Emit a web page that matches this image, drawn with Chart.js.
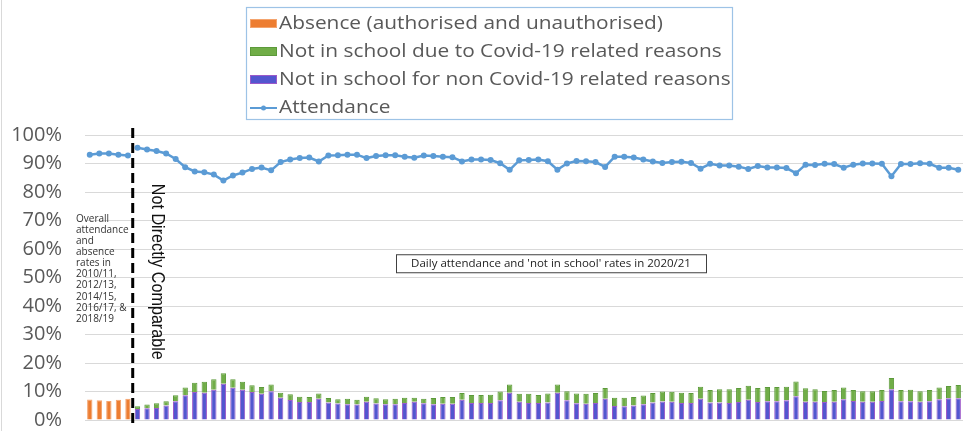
<!DOCTYPE html>
<html>
<head>
<meta charset="utf-8">
<script src="https://cdn.jsdelivr.net/npm/chart.js@4/dist/chart.umd.min.js"></script>
<style>
    html, body { margin: 0; padding: 0; background: #fff; }
    #wrap { position: relative; width: 976px; height: 431px; }
</style>
</head>
<body>
<div id="wrap"><canvas id="attendanceChart"></canvas></div>
<script>
// pre-2020 yearly figures
const yearLabels = ['2010/11', '2012/13', '2014/15', '2016/17', '2018/19'];
const absenceRates = [7.2, 6.9, 6.7, 7.1, 7.5];
const attendanceYearly = [93.1, 93.5, 93.5, 93.1, 92.8];

// daily figures 2020/21 (%)
const nonCovidRates = [
    3.9, 4.1, 4.2, 5.1, 6.6, 8.7, 9.8, 9.6, 10.6, 12.7, 11.3, 10.6, 9.8, 9.2, 10.1, 7.8, 7.0, 6.3, 6.3, 7.5, 6.1, 5.8, 5.5, 5.4, 6.4, 5.8,
    5.5, 5.5, 6.0, 6.4, 5.9, 5.5, 5.7, 5.7, 7.1, 6.0, 6.0, 6.0, 6.9, 9.6, 6.4, 6.0, 6.0, 6.1, 9.6, 6.9, 5.9, 5.7, 6.0, 7.5, 4.9, 4.8, 5.1, 5.5, 6.1, 6.5,
    6.4, 6.0, 6.0, 7.5, 6.1, 6.1, 6.0, 6.3, 7.1, 6.3, 6.6, 6.6, 6.9, 8.3, 6.4, 6.4, 6.3, 6.4, 7.3, 6.7, 6.4, 6.4, 6.7, 10.8, 6.6, 6.6, 6.4, 6.6, 7.3, 7.6, 7.6
];
const covidRates = [
    0.9, 1.3, 1.7, 1.5, 2.1, 2.7, 3.3, 3.8, 3.7, 3.7, 3.0, 2.8, 2.4, 2.4, 2.4, 1.8, 2.0, 1.9, 1.8, 1.8, 1.6, 1.5, 2.0, 1.7, 1.8, 1.8,
    1.8, 2.0, 1.8, 1.4, 1.6, 2.2, 2.4, 2.4, 2.4, 2.8, 2.8, 2.9, 3.1, 2.9, 2.8, 3.2, 2.8, 3.2, 2.9, 3.2, 3.4, 3.5, 3.5, 3.7, 2.9, 3.0, 3.0, 3.1, 3.4, 3.5,
    3.5, 3.6, 3.5, 4.2, 4.4, 4.7, 4.8, 4.9, 4.9, 4.9, 5.0, 5.0, 4.8, 5.2, 4.7, 4.4, 3.9, 4.1, 4.1, 3.8, 3.7, 3.7, 3.8, 3.9, 3.9, 4.0, 3.7, 3.9, 4.1, 4.3, 4.7
];
const attendanceDaily = [
    95.5, 94.9, 94.4, 93.5, 91.6, 88.7, 87.2, 86.9, 86.1, 84.0, 85.8, 86.8, 88.1, 88.6, 87.6, 90.5, 91.4, 91.9, 92.1, 90.7, 92.8, 92.9, 93.1, 93.1, 91.9, 92.6,
    92.9, 92.9, 92.4, 92.0, 92.8, 92.6, 92.4, 92.2, 90.7, 91.4, 91.4, 91.2, 90.1, 87.8, 91.1, 91.2, 91.4, 90.8, 87.8, 90.0, 90.9, 90.8, 90.5, 88.8, 92.4, 92.4, 92.1, 91.4, 90.7, 90.2,
    90.5, 90.6, 90.2, 88.2, 89.9, 89.3, 89.3, 88.9, 88.1, 89.1, 88.6, 88.6, 88.4, 86.6, 89.6, 89.5, 89.9, 89.8, 88.5, 89.6, 90.0, 90.0, 89.9, 85.5, 89.8, 89.8, 90.1, 89.9, 88.5, 88.5, 87.8
];
const dayLabels = attendanceDaily.map((v, i) => 'Day ' + (i + 1));
const yTicks = [0, 10, 20, 30, 40, 50, 60, 70, 80, 90, 100];

const labels = yearLabels.concat(dayLabels);
const gapYears = yearLabels.map(() => null);
const gapDays = dayLabels.map(() => null);

const TEXT_GREY = '#595959';

// legend drawn in the original order, inside a bordered box
const legendOrder = [0, 2, 1, 3];

const extrasPlugin = {
    id: 'extras',
    afterDatasetsDraw(chart) {
        const ctx = chart.ctx;
        const x = chart.scales.x;
        const y = chart.scales.y;
        const split = (x.getPixelForValue(yearLabels.length - 1) + x.getPixelForValue(yearLabels.length)) / 2;

        ctx.save();

        // faint frame at left edge
        ctx.strokeStyle = '#d9d9d9';
        ctx.lineWidth = 1;
        ctx.beginPath();
        ctx.moveTo(1.5, 0);
        ctx.lineTo(1.5, chart.height);
        ctx.stroke();

        // dashed divider
        ctx.strokeStyle = '#000';
        ctx.lineWidth = 3;
        ctx.setLineDash([10, 5]);
        ctx.beginPath();
        ctx.moveTo(split, y.getPixelForValue(102.5));
        ctx.lineTo(split, y.bottom + 3);
        ctx.stroke();
        ctx.setLineDash([]);

        // rotated label
        ctx.save();
        ctx.translate(split + 24, y.getPixelForValue(52));
        ctx.rotate(Math.PI / 2);
        ctx.font = '18px "Liberation Sans"';
        const txt = 'Not Directly Comparable';
        const w = ctx.measureText(txt).width;
        ctx.scale(176 / w, 1);
        ctx.fillStyle = '#111';
        ctx.textAlign = 'center';
        ctx.textBaseline = 'middle';
        ctx.fillText(txt, 0, 0);
        ctx.restore();

        // left note
        const note = ['Overall', 'attendance', 'and', 'absence', 'rates in', '2010/11,', '2012/13,', '2014/15,', '2016/17, &', '2018/19'];
        ctx.font = '10px "Open Sans"';
        ctx.fillStyle = '#333';
        ctx.textAlign = 'left';
        ctx.textBaseline = 'middle';
        note.forEach((line, i) => {
            ctx.fillText(line, x.left - 9, 219 + i * 11.1);
        });

        // centre caption box
        const cx = 551, cy = y.getPixelForValue(55);
        ctx.fillStyle = '#fff';
        ctx.fillRect(cx - 155, cy - 9, 310, 18);
        ctx.strokeStyle = '#404040';
        ctx.lineWidth = 1;
        ctx.strokeRect(cx - 155 + 0.5, cy - 9 + 0.5, 310, 18);
        ctx.font = '11.5px "Open Sans"';
        ctx.fillStyle = '#222';
        ctx.textAlign = 'center';
        ctx.fillText("Daily attendance and 'not in school' rates in 2020/21", cx, cy);

        // legend box
        ctx.fillStyle = '#fff';
        ctx.fillRect(246, 7, 486, 112);
        ctx.strokeStyle = '#9dc3e6';
        ctx.lineWidth = 1.2;
        ctx.strokeRect(246.5, 7.5, 486, 112);
        ctx.font = '19px "Open Sans"';
        ctx.textAlign = 'left';
        ctx.textBaseline = 'middle';
        const sx = 384 / ctx.measureText(chart.data.datasets[0].label).width;
        legendOrder.forEach((di, row) => {
            const ds = chart.data.datasets[di];
            const ry = 23 + row * 28;
            if (ds.type === 'line') {
                ctx.strokeStyle = ds.borderColor;
                ctx.lineWidth = 2;
                ctx.beginPath();
                ctx.moveTo(250, ry + 1);
                ctx.lineTo(277, ry + 1);
                ctx.stroke();
                ctx.fillStyle = ds.borderColor;
                ctx.beginPath();
                ctx.arc(263.5, ry + 1, 2.5, 0, Math.PI * 2);
                ctx.fill();
            } else {
                ctx.fillStyle = ds.backgroundColor;
                ctx.fillRect(250, ry - 4, 27, 9);
                ctx.strokeStyle = ds.borderColor;
                ctx.lineWidth = 1;
                ctx.strokeRect(250.5, ry - 3.5, 26, 8);
            }
            ctx.save();
            ctx.translate(279, ry + 1);
            ctx.scale(sx, 1);
            ctx.fillStyle = TEXT_GREY;
            ctx.fillText(ds.label, 0, 0);
            ctx.restore();
        });

        ctx.restore();
    }
};

new Chart(document.getElementById('attendanceChart'), {
    data: {
        labels: labels,
        datasets: [
            {
                type: 'bar',
                label: 'Absence (authorised and unauthorised)',
                data: absenceRates.concat(gapDays),
                backgroundColor: '#ED7D31',
                borderColor: '#F4A46E',
                borderWidth: 1,
                stack: 'a',
                order: 2
            },
            {
                type: 'bar',
                label: 'Not in school for non Covid-19 related reasons',
                data: gapYears.concat(nonCovidRates),
                backgroundColor: '#5356CF',
                borderColor: '#9B59C9',
                borderWidth: 1,
                stack: 'a',
                order: 2
            },
            {
                type: 'bar',
                label: 'Not in school due to Covid-19 related reasons',
                data: gapYears.concat(covidRates),
                backgroundColor: '#70AD47',
                borderColor: '#5C9A3A',
                borderWidth: 1,
                stack: 'a',
                order: 2
            },
            {
                type: 'line',
                label: 'Attendance',
                data: attendanceYearly.concat(attendanceDaily),
                borderColor: '#5B9BD5',
                backgroundColor: '#5B9BD5',
                borderWidth: 2.5,
                pointRadius: 3,
                pointBorderWidth: 0,
                pointBackgroundColor: '#5B9BD5',
                tension: 0,
                order: 1,
                segment: {
                    borderColor: c => c.p0DataIndex === yearLabels.length - 1 ? 'rgba(0,0,0,0)' : undefined
                }
            }
        ]
    },
    options: {
        responsive: true,
        maintainAspectRatio: false,
        animation: false,
        layout: {
            padding: { top: 135, bottom: 11, left: 12, right: 13 }
        },
        plugins: {
            legend: { display: false },
            tooltip: { enabled: false }
        },
        datasets: {
            bar: {
                categoryPercentage: 1,
                barPercentage: 0.56
            }
        },
        scales: {
            x: {
                display: false,
                stacked: true,
                offset: true
            },
            y: {
                stacked: true,
                min: 0,
                max: 100,
                afterBuildTicks: scale => {
                    scale.ticks = yTicks.map(v => ({ value: v }));
                },
                afterFit: scale => {
                    scale.width = 73;
                    // tick padding should not push the plot area vertically
                    scale.paddingTop = 0;
                    scale.paddingBottom = 0;
                },
                border: { display: false },
                grid: {
                    color: '#d9d9d9',
                    lineWidth: 1,
                    drawTicks: false
                },
                ticks: {
                    padding: 23,
                    color: TEXT_GREY,
                    font: { family: 'Open Sans', size: 20 },
                    callback: v => v + '%'
                }
            }
        }
    },
    plugins: [extrasPlugin]
});
</script>
</body>
</html>
